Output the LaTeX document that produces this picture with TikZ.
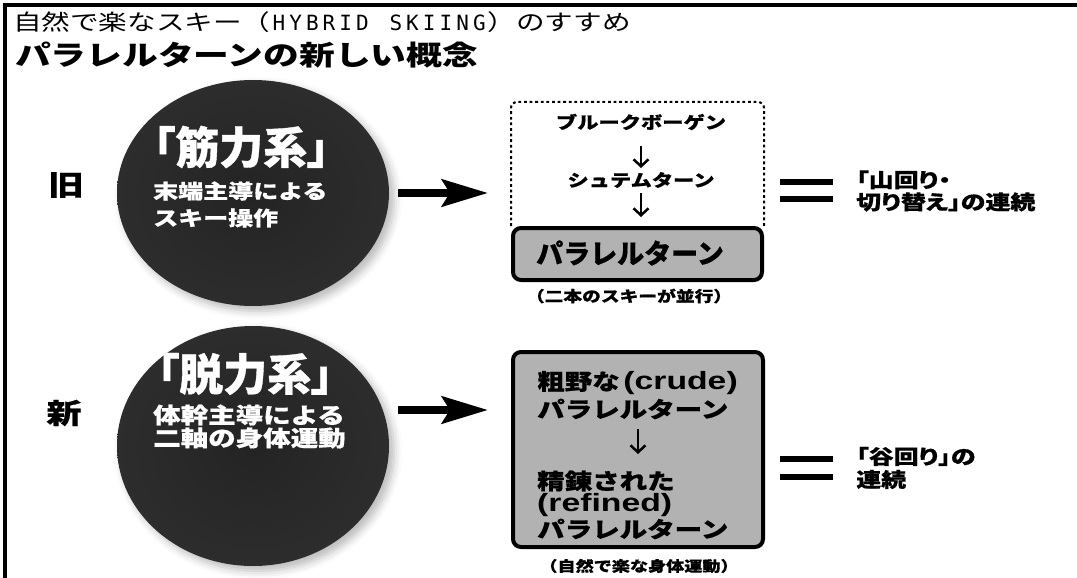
\documentclass[tikz,border=0pt]{standalone}
\usepackage{fontspec}
\setmainfont{Noto Sans CJK JP}
\newfontfamily\jpn{Noto Sans CJK JP}[BoldFeatures={FakeBold=0.6}]
\newfontfamily\jpp{Noto Sans CJK JP}[CharacterWidth=AlternateProportional,BoldFeatures={FakeBold=0.8}]
\newfontfamily\jpw{Noto Sans CJK JP}[FakeStretch=1.25,BoldFeatures={FakeBold=0.6}]
\newfontfamily\jpwp{Noto Sans CJK JP}[FakeStretch=1.25,CharacterWidth=AlternateProportional,BoldFeatures={FakeBold=0.6}]
\newfontfamily\jpt{Noto Sans CJK JP}[FakeStretch=1.3]
\newfontfamily\latw{Liberation Sans}[FakeStretch=1.35]
\newfontfamily\monof{DejaVu Sans Mono}
\usetikzlibrary{shapes.geometric,arrows.meta,shadows.blur}
\newcommand\fs[1]{\fontsize{#1}{#1}\selectfont}
\newcommand\hwc[1]{\makebox[16.7pt]{#1}}
\pgfdeclareradialshading{ballshade}{\pgfpoint{0bp}{0bp}}{color(0bp)=(black!86); color(28bp)=(black!82); color(40bp)=(black!72); color(48bp)=(black!58); color(52bp)=(black!50); color(100bp)=(black!50)}
\tikzset{
  ball/.style={ellipse, shade, shading=ballshade, minimum width=272pt, inner sep=0pt,
    blur shadow={shadow xshift=5pt, shadow yshift=-5pt, shadow blur radius=8pt, shadow opacity=28}},
  wt/.style={text=white, inner sep=0pt, font=\bfseries},
  bt/.style={text=black, inner sep=0pt, font=\bfseries},
  graybox/.style={draw=black, line width=4pt, fill=black!30, rounded corners=8pt, inner sep=0pt},
  dashframe/.style={line width=2pt, dash pattern=on 2.8pt off 2.8pt, rounded corners=6pt},
  bigarrow/.style={line width=8pt, -{Stealth[length=46pt,width=27pt,inset=8pt]}},
  smallarrow/.style={line width=2.5pt, -{Straight Barb[length=7pt,width=15pt]}},
  eqbar/.style={line width=6.5pt},
}
\begin{document}
\begin{tikzpicture}[x=1pt,y=-1pt]
\useasboundingbox (0,0) rectangle (1077,578);
% frame
\draw[line width=4pt] (5,578) -- (5,5) -- (1077,5);
% titles
\node[anchor=west, inner sep=0pt] (title1) at (13,22)
  {\jpt\fs{22}自然で楽なスキー（{\monof\fs{21}\hwc{H}\hwc{Y}\hwc{B}\hwc{R}\hwc{I}\hwc{D}\hwc{}\hwc{S}\hwc{K}\hwc{I}\hwc{I}\hwc{N}\hwc{G}}）のすすめ};
\node[anchor=west, inner sep=0pt] (title2) at (15,55) {\jpt\bfseries\fs{27.5}パラレルターンの新しい概念};
% row labels
\node[bt] (old) at (66,185) {\jpw\fs{28}旧};
\node[bt] (new) at (64,413) {\jpw\fs{28}新};
% balls
\node[ball, minimum height=226pt] (e1) at (253,193) {};
\node[ball, minimum height=240pt] (e2) at (253,446) {};
\node[wt, anchor=west] (e1a) at (153,147) {\jpp\fs{44}「筋力系」};
\node[wt, anchor=west] (e1b) at (153,191) {\jpw\fs{20}末端主導による};
\node[wt, anchor=west] (e1c) at (153,218) {\jpw\fs{20}スキー操作};
\node[wt, anchor=west] (e2a) at (157,374) {\jpp\fs{44}「脱力系」};
\node[wt, anchor=west] (e2b) at (153,415) {\jpw\fs{22}体幹主導による};
\node[wt, anchor=west] (e2c) at (153,438) {\jpw\fs{22}二軸の身体運動};
% top box
\node[graybox, minimum width=249pt, minimum height=52pt] (bx1) at (637.5,254) {};
\node[bt] (bx1t) at (630,253) {\jpn\fs{27}パラレルターン};
\draw[dashframe] (bx1.north west) |- (637,102) -| (bx1.north east);
\node[bt] (t1) at (641,122) {\jpw\fs{17}ブルークボーゲン};
\node[bt] (t2) at (641,180) {\jpw\fs{17}シュテムターン};
\draw[smallarrow, shorten <=24pt, shorten >=12pt] (t1.center) -- (t2.center);
\draw[smallarrow, shorten <=13pt, shorten >=9pt] (t2.center) -- (t2.center |- bx1.north);
\node[bt] (cap1) at (629,296) {\jpw\fs{15}（二本のスキーが並行）};
% bottom box
\node[graybox, minimum width=250pt, minimum height=195pt] (bx2) at (638,449.5) {};
\node[bt, anchor=west] (b1) at (537,383) {\jpw\fs{22}粗野な\,{\latw\fs{25}(crude)}};
\node[bt, anchor=west] (b2) at (537,409) {\jpw\fs{22}パラレルターン};
\node[bt, anchor=west] (b3) at (537,481) {\jpw\fs{22}精錬された};
\node[bt, anchor=west] (b4) at (537,505) {\latw\fs{25}(refined)};
\node[bt, anchor=west] (b5) at (537,529) {\jpw\fs{22}パラレルターン};
\draw[smallarrow, shorten <=20pt, shorten >=27pt] (b2.center -| bx2.center) -- (b3.center -| bx2.center);
\node[bt] (cap2) at (639,566) {\jpw\fs{14.5}（自然で楽な身体運動）};
% big arrows
\coordinate (a1s) at ([xshift=9pt]e1.east);
\draw[bigarrow, shorten >=23pt] (a1s) -- (a1s -| bx1.west);
\coordinate (a2s) at ([shift={(9pt,36pt)}]e2.east);
\draw[bigarrow, shorten >=23pt] (a2s) -- (a2s -| bx2.west);
% equals
\draw[eqbar] (780,182) -- (833,182);
\draw[eqbar] (780,199) -- (833,199);
\draw[eqbar] (780,459) -- (833,459);
\draw[eqbar] (780,477) -- (833,477);
% right texts
\node[bt, anchor=west, align=left, font=\jpwp\bfseries\fontsize{20}{22}\selectfont] (r1) at (856,191) {「山回り・\\切り替え」の連続};
\node[bt, anchor=west, align=left, font=\jpwp\bfseries\fontsize{20}{23}\selectfont] (r2) at (856,468) {「谷回り」の\\連続};
\end{tikzpicture}
\end{document}
